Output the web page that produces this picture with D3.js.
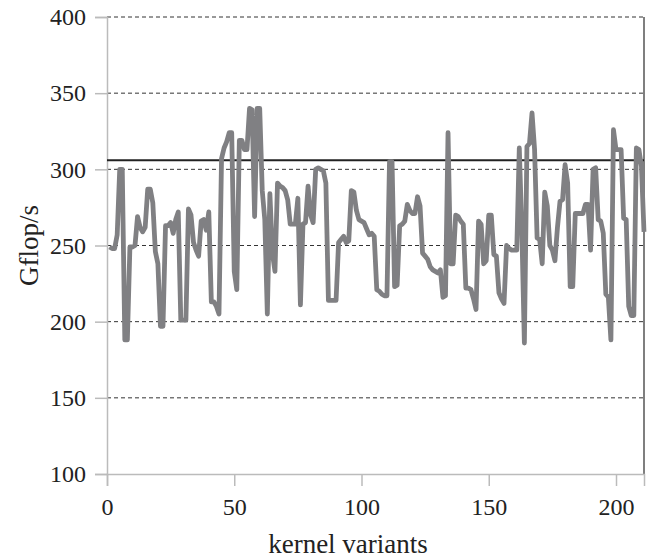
<!DOCTYPE html>
<html>
<head>
<meta charset="utf-8">
<script src="https://cdn.jsdelivr.net/npm/d3@7"></script>
<style>
  body { margin: 0; background: #fff; }
</style>
</head>
<body>
<svg id="chart" width="653" height="558"></svg>
<script>
// Gflop/s per kernel variant (x = 1..211)
var gflops = [
  249, 248, 248, 257, 300, 300, 188, 188, 249, 249,
  250, 269, 262, 259, 262, 287, 287, 278, 246, 238,
  197, 197, 263, 263, 265, 258, 267, 272, 201, 201,
  201, 274, 270, 252, 247, 243, 266, 267, 260, 272,
  213, 213, 210, 205, 307, 314, 318, 324, 324, 233,
  221, 319, 319, 313, 313, 340, 339, 269, 340, 340,
  286, 267, 205, 284, 245, 233, 291, 289, 288, 286,
  280, 264, 264, 264, 281, 211, 264, 265, 289, 270,
  265, 300, 301, 300, 299, 291, 214, 214, 214, 214,
  252, 254, 256, 252, 253, 286, 285, 273, 267, 266,
  265, 261, 257, 258, 256, 221, 220, 218, 217, 217,
  305, 305, 223, 224, 263, 264, 266, 277, 273, 271,
  271, 282, 276, 245, 243, 241, 236, 234, 233, 232,
  234, 216, 217, 324, 238, 238, 270, 269, 266, 264,
  222, 222, 221, 215, 208, 266, 264, 238, 240, 270,
  270, 244, 243, 219, 215, 212, 250, 248, 247, 247,
  247, 314, 260, 186, 315, 317, 337, 313, 255, 254,
  238, 285, 276, 250, 247, 240, 262, 279, 280, 303,
  291, 223, 223, 271, 271, 271, 271, 277, 277, 247,
  300, 301, 267, 266, 258, 218, 216, 188, 326, 313,
  313, 313, 268, 267, 210, 204, 204, 314, 313, 302,
  259
]
var reference = 306
var yTicks = [100, 150, 200, 250, 300, 350, 400]
var xTicks = [0, 50, 100, 150, 200]

var data = gflops.map(function(v, i) { return {x: i + 1, y: v} })

var font = "'Liberation Serif', 'Times New Roman', serif"
var margin = {top: 17, right: 9, bottom: 84, left: 107}
var width = 653 - margin.left - margin.right
var height = 558 - margin.top - margin.bottom

var x = d3.scaleLinear().domain([0, 211]).range([0, width])
var y = d3.scaleLinear().domain([100, 400]).range([height, 0])

var svg = d3.select("#chart")
var g = svg.append("g").attr("transform", "translate(" + margin.left + "," + margin.top + ")")

// dashed grid
g.selectAll(".grid")
  .data(yTicks.filter(function(d) { return d > 100 }))
  .enter().append("line")
  .attr("class", "grid")
  .attr("x1", 0).attr("x2", width)
  .attr("y1", function(d) { return y(d) }).attr("y2", function(d) { return y(d) })
  .attr("stroke", "#333")
  .attr("stroke-width", 1)
  .attr("stroke-dasharray", "4,3")

// right border
g.append("line")
  .attr("x1", width).attr("x2", width)
  .attr("y1", 0).attr("y2", height)
  .attr("stroke", "#555")
  .attr("stroke-width", 1.5)

// axes
var yAxis = g.append("g")
  .call(d3.axisLeft(y).tickValues(yTicks).tickSize(12).tickPadding(9))
var xAxis = g.append("g")
  .attr("transform", "translate(0," + height + ")")
  .call(d3.axisBottom(x).tickValues(xTicks).tickSize(12).tickPadding(12))

;[yAxis, xAxis].forEach(function(a) {
  a.attr("font-family", font).attr("font-size", 24)
  a.select(".domain").attr("stroke", "#bbb").attr("stroke-width", 1.5)
  a.selectAll(".tick line").attr("stroke", "#bbb").attr("stroke-width", 1.5)
  a.selectAll(".tick text").attr("fill", "#222")
})

// reference line
g.append("line")
  .attr("x1", 0).attr("x2", width)
  .attr("y1", y(reference)).attr("y2", y(reference))
  .attr("stroke", "#222")
  .attr("stroke-width", 2)

// series
var line = d3.line()
  .x(function(d) { return x(d.x) })
  .y(function(d) { return y(d.y) })

g.append("path")
  .datum(data)
  .attr("fill", "none")
  .attr("stroke", "#808083")
  .attr("stroke-width", 4.8)
  .attr("stroke-linejoin", "round")
  .attr("d", line)

// axis titles
svg.append("text")
  .attr("x", 348)
  .attr("y", 553)
  .attr("text-anchor", "middle")
  .attr("font-family", font)
  .attr("font-size", 27)
  .attr("fill", "#222")
  .text("kernel variants")

svg.append("text")
  .attr("transform", "translate(38," + (margin.top + height / 2) + ") rotate(-90)")
  .attr("text-anchor", "middle")
  .attr("font-family", font)
  .attr("font-size", 27)
  .attr("fill", "#222")
  .text("Gflop/s")
</script>
</body>
</html>
